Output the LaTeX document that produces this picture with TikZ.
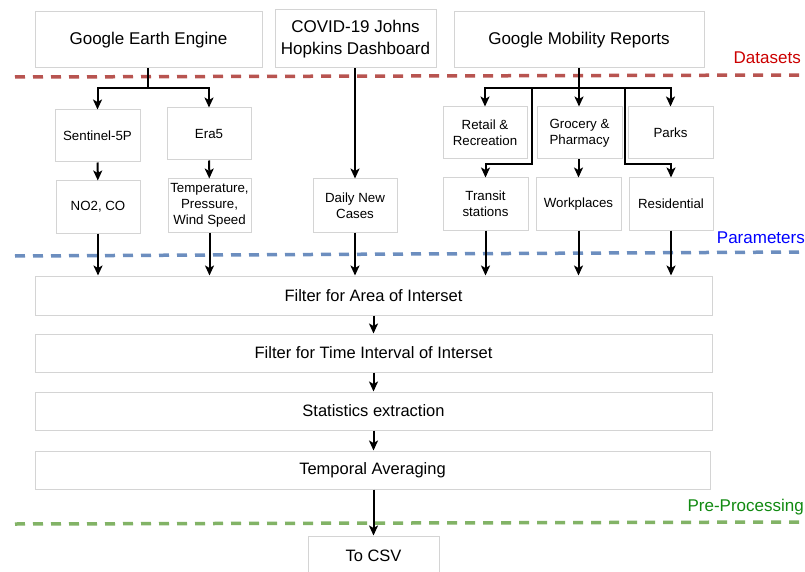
\documentclass[tikz,border=0pt]{standalone}
\usepackage{fontspec}
\setmainfont{Liberation Sans}
\usetikzlibrary{arrows.meta}
\definecolor{boxgray}{HTML}{D4D4D4}
\definecolor{dred}{HTML}{B85450}
\definecolor{dblue}{HTML}{6C8EBF}
\definecolor{dgreen}{HTML}{82B366}
\definecolor{lred}{HTML}{CC0000}
\definecolor{lblue}{HTML}{0000FF}
\definecolor{lgreen}{HTML}{118A11}
\tikzset{
  box/.style={draw=boxgray, line width=1pt, inner sep=0pt, align=center, fill=white},
  bigtxt/.style={font=\fontsize{17}{22}\selectfont},
  smalltxt/.style={font=\fontsize{13.3}{16}\selectfont},
  midtxt/.style={font=\fontsize{16.5}{20}\selectfont},
  conn/.style={line width=2pt, black},
  arr/.style={conn, -{Stealth[length=10pt,width=9pt,inset=2.5pt]}},
  dl/.style={line width=3.5pt, dash pattern=on 10pt off 8pt},
  lbl/.style={font=\fontsize{17}{20}\selectfont, anchor=east, inner sep=0pt}
}
\begin{document}
\begin{tikzpicture}[x=1pt,y=-1pt]
\clip (0,0) rectangle (805,572);
\useasboundingbox (0,0) rectangle (805,572);
\fill[white] (0,0) rectangle (805,572);

% dashed separators
\draw[dl, dred] (15,77) -- (805,75);
\draw[dl, dblue] (15,256) -- (805,252);
\draw[dl, dgreen] (15,524) -- (805,522);

\node[lbl, text=lred] (lds) at (801,58) {Datasets};
\node[lbl, text=lblue] (lpar) at (805,238) {Parameters};
\node[lbl, text=lgreen] (lpre) at (804,507) {Pre-Processing};

% datasets
\node[box, bigtxt, minimum width=227pt, minimum height=56pt] (gee) at (148.5,40) {Google Earth Engine};
\node[box, bigtxt, minimum width=161pt, minimum height=58pt] (covid) at (355.5,39) {COVID-19 Johns\\Hopkins Dashboard};
\node[box, bigtxt, minimum width=250pt, minimum height=56pt] (gmr) at (579,40) {Google Mobility Reports};

% sources / categories
\node[box, smalltxt, minimum width=85pt, minimum height=52pt] (s5p) at (97.5,136) {Sentinel-5P};
\node[box, smalltxt, minimum width=84pt, minimum height=52pt] (era5) at (209,134) {Era5};
\node[box, smalltxt, minimum width=84pt, minimum height=52pt] (retail) at (485,133) {Retail \&\\Recreation};
\node[box, smalltxt, minimum width=85pt, minimum height=52pt] (grocery) at (579.5,133) {Grocery \&\\Pharmacy};
\node[box, smalltxt, minimum width=85pt, minimum height=52pt] (parks) at (670.5,133) {Parks};

% parameters
\node[box, smalltxt, minimum width=84pt, minimum height=52pt] (no2) at (98,207) {NO2, CO};
\node[box, smalltxt, minimum width=83pt, minimum height=53pt] (temp) at (209.5,205.5) {Temperature,\\Pressure,\\Wind Speed};
\node[box, smalltxt, minimum width=84pt, minimum height=53pt] (daily) at (355,205.5) {Daily New\\Cases};
\node[box, smalltxt, minimum width=85pt, minimum height=52pt] (transit) at (485.5,204) {Transit\\stations};
\node[box, smalltxt, minimum width=85pt, minimum height=52pt] (work) at (578.5,204) {Workplaces};
\node[box, smalltxt, minimum width=84pt, minimum height=52pt] (resid) at (671,204) {Residential};

% processing
\node[box, midtxt, minimum width=677pt, minimum height=39pt] (f1) at (373.5,295.5) {Filter for Area of Interset};
\node[box, midtxt, minimum width=677pt, minimum height=38pt] (f2) at (373.5,353) {Filter for Time Interval of Interset};
\node[box, midtxt, minimum width=677pt, minimum height=38pt] (f3) at (373.5,411) {Statistics extraction};
\node[box, midtxt, minimum width=675pt, minimum height=38pt] (f4) at (372.5,470) {Temporal Averaging};
\node[box, midtxt, minimum width=131pt, minimum height=40pt] (csv) at (373.5,556) {To CSV};

% GEE branching
\coordinate (j1) at (148,88);
\draw[conn] (gee.south -| j1) -- (j1);
\draw[arr] (j1) -| (s5p.north);
\draw[arr] (j1) -| (era5.north);
\draw[arr] (s5p) -- (no2);
\draw[arr] (era5) -- (temp);

% COVID
\draw[arr] (covid.south -| daily.north) -- (daily.north);

% Mobility branching
\coordinate (j2) at (579,88);
\draw[conn] (gmr.south -| j2) -- (j2);
\draw[arr] (j2) -| (retail.north);
\draw[arr] (j2) -| (parks.north);
\draw[arr] (j2) -- (j2 |- grocery.north);
\coordinate (t1) at (532,88);
\coordinate (t2) at (532,164);
\draw[arr] (t1) -- (t2) -| (transit.north);
\coordinate (r1) at (625,88);
\coordinate (r2) at (625,164);
\draw[arr] (r1) -- (r2) -| (resid.north);
\draw[arr] (grocery.south -| work.north) -- (work.north);

% parameters to filter
\draw[arr] (no2.south) -- (no2.south |- f1.north);
\draw[arr] (temp.south) -- (temp.south |- f1.north);
\draw[arr] (daily.south) -- (daily.south |- f1.north);
\draw[arr] (transit.south) -- (transit.south |- f1.north);
\draw[arr] (work.south) -- (work.south |- f1.north);
\draw[arr] (resid.south) -- (resid.south |- f1.north);

% processing chain
\draw[arr] (f1.south -| csv.north) -- (f2.north -| csv.north);
\draw[arr] (f2.south -| csv.north) -- (f3.north -| csv.north);
\draw[arr] (f3.south -| csv.north) -- (f4.north -| csv.north);
\draw[arr] (f4.south -| csv.north) -- (csv.north);
\end{tikzpicture}
\end{document}
